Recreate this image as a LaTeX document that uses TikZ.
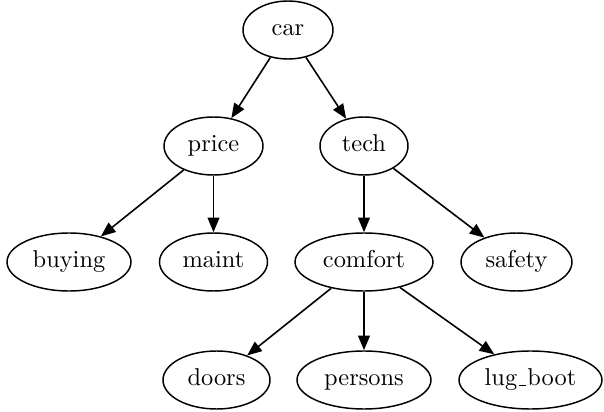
\documentclass[tikz,border=0pt]{standalone}
\usetikzlibrary{shapes.geometric,arrows.meta}
\newcommand{\lowbar}{\kern.06em\vbox{\hrule width.3em height.45pt}\kern.06em}
\begin{document}
\begin{tikzpicture}[x=0.41pt,y=-0.41pt,
  every node/.style={ellipse,draw,line width=0.6pt,inner sep=0pt,
    text height=1.55ex,text depth=.45ex,minimum height=58*0.41pt},
  edge/.style={line width=0.65pt,-{Triangle[length=6pt,width=4.8pt]}}]
\useasboundingbox (0,0) rectangle (604,412);
% tree nodes
\node[minimum width=90*0.41pt]  (car)     at (288,30)    {car};
\node[minimum width=99*0.41pt]  (price)   at (213.5,146) {price};
\node[minimum width=88*0.41pt]  (tech)    at (364,146)   {tech};
\node[minimum width=124*0.41pt] (buying)  at (69,262)    {buying};
\node[minimum width=108*0.41pt] (maint)   at (213.5,262) {maint};
\node[minimum width=138*0.41pt] (comfort) at (364,262)   {comfort};
\node[minimum width=111*0.41pt] (safety)  at (516.5,262) {safety};
\node[minimum width=107*0.41pt] (doors)   at (216.5,380) {doors};
\node[minimum width=134*0.41pt] (persons) at (364,380)   {persons};
\node[minimum width=143*0.41pt] (lug)     at (530.5,380) {lug\lowbar boot};
% edges
\draw[edge] (car) -- (price);
\draw[edge] (car) -- (tech);
\draw[edge] (price) -- (buying);
\draw[edge] (price) -- (maint);
\draw[edge] (tech) -- (comfort);
\draw[edge] (tech) -- (safety);
\draw[edge] (comfort) -- (doors);
\draw[edge] (comfort) -- (persons);
\draw[edge] (comfort) -- (lug);
\end{tikzpicture}
\end{document}
